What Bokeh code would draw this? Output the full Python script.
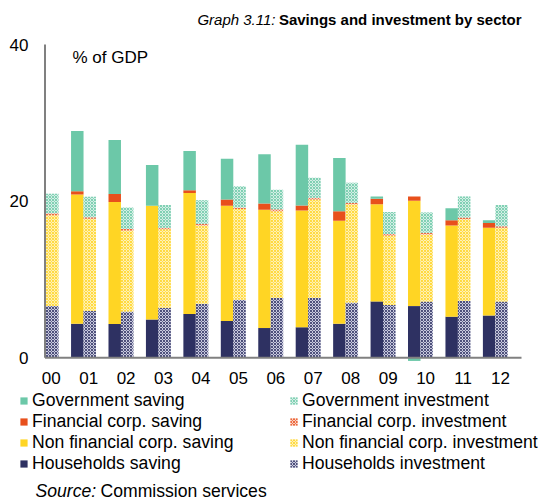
import numpy as np
from bokeh.plotting import figure
from bokeh.models import ColumnDataSource, Label, Legend, LegendItem, Range1d
from bokeh.embed import file_html
from bokeh.resources import INLINE

# ---------------- data (% of GDP) ----------------
years = ["00", "01", "02", "03", "04", "05", "06", "07", "08", "09", "10", "11", "12"]

hh_saving  = [np.nan, 4.35, 4.3, 4.9, 5.6, 4.7, 3.8, 3.9, 4.35, 7.2, 6.6, 5.25, 5.4]
nfc_saving = [np.nan, 16.5, 15.6, 14.5, 15.45, 14.7, 15.1, 14.9, 13.15, 12.4, 13.45, 11.65, 11.2]
fin_saving = [np.nan, 0.4, 1.0, 0.0, 0.35, 0.8, 0.8, 0.65, 1.2, 0.7, 0.55, 0.65, 0.6]
gov_saving = [np.nan, 7.7, 6.9, 5.2, 5.0, 5.2, 6.3, 7.75, 6.8, 0.3, -0.4, 1.55, 0.35]

hh_invest  = [6.6, 6.0, 5.9, 6.4, 6.9, 7.4, 7.65, 7.65, 7.05, 6.75, 7.2, 7.25, 7.2]
nfc_invest = [11.6, 11.75, 10.35, 10.0, 10.0, 11.6, 11.05, 12.55, 12.55, 8.85, 8.55, 10.45, 9.4]
fin_invest = [0.25, 0.2, 0.2, 0.2, 0.2, 0.2, 0.25, 0.25, 0.2, 0.2, 0.2, 0.2, 0.2]
gov_invest = [2.5, 2.6, 2.75, 2.9, 3.0, 2.7, 2.5, 2.55, 2.55, 2.8, 2.6, 2.7, 2.7]

y_ticks = [0, 20, 40]
y_tick_labels = ["0", "20", "40"]

# ---------------- styling / layout ----------------
W, H = 543, 500
FONT = "Liberation Sans"
GREY = "#808080"
C_GOV, C_FIN, C_NFC, C_HH = "#6CC8A8", "#E8501C", "#FFD524", "#2E3162"
P_GOV, P_FIN, P_NFC, P_HH = "#D3EFE5", "#F9CDBE", "#FFF1B5", "#C9CADF"

PX_X = 37.44          # pixels per category
PX_Y = 313.3 / 40     # pixels per % point
X0_PX, Y0_PX = 50.7, 357.3   # pixel position of first category label / zero line
X_AXIS_L = (44.5 - X0_PX) / PX_X
X_AXIS_R = (521.0 - X0_PX) / PX_X

n = len(years)
idx = np.arange(n)
SAV_OFF, INV_OFF, BAR_W = -0.303, 0.029, 1 / 3


def stacked(series):
    """positive values stack upward, negative values downward from 0"""
    pos = np.zeros(n)
    neg = np.zeros(n)
    out = []
    for s in series:
        v = np.asarray(s, dtype=float)
        miss = np.isnan(v)
        v0 = np.nan_to_num(v)
        bottom = np.where(v0 >= 0, pos, neg)
        top = bottom + v0
        pos = np.where(v0 >= 0, top, pos)
        neg = np.where(v0 < 0, top, neg)
        out.append((np.where(miss, np.nan, bottom), np.where(miss, np.nan, top)))
    return out


p = figure(width=W, height=H, min_border=0,
           x_range=Range1d(-X0_PX / PX_X, (W - X0_PX) / PX_X),
           y_range=Range1d(-(H - Y0_PX) / PX_Y, Y0_PX / PX_Y),
           x_axis_location=None, y_axis_location=None,
           output_backend="svg", toolbar_location=None,
           background_fill_color="white", border_fill_color="white")
p.outline_line_color = None
p.grid.visible = False

sav = stacked([hh_saving, nfc_saving, fin_saving, gov_saving])
inv = stacked([hh_invest, nfc_invest, fin_invest, gov_invest])

r = {}
for key, (b, t), col in zip(["hh_s", "nfc_s", "fin_s", "gov_s"], sav, [C_HH, C_NFC, C_FIN, C_GOV]):
    src = ColumnDataSource(dict(x=idx + SAV_OFF, bottom=b, top=t))
    r[key] = p.vbar(x="x", bottom="bottom", top="top", width=BAR_W, source=src,
                    fill_color=col, line_color=None)

for key, (b, t), col, pale in zip(["hh_i", "nfc_i", "fin_i", "gov_i"], inv,
                                  [C_HH, C_NFC, C_FIN, C_GOV], [P_HH, P_NFC, P_FIN, P_GOV]):
    src = ColumnDataSource(dict(x=idx + INV_OFF, bottom=b, top=t))
    r[key] = p.vbar(x="x", bottom="bottom", top="top", width=BAR_W, source=src,
                    fill_color=pale, line_color=None,
                    hatch_pattern="diagonal_cross", hatch_color=col,
                    hatch_scale=3, hatch_weight=1.0, hatch_alpha=0.8)

# axis lines
p.segment(x0=[X_AXIS_L, X_AXIS_L], y0=[y_ticks[0], y_ticks[0]],
          x1=[X_AXIS_L, X_AXIS_R], y1=[y_ticks[-1], y_ticks[0]],
          line_color=GREY, line_width=2)

# tick labels
p.text(x=[X_AXIS_L] * len(y_ticks), y=y_ticks, text=y_tick_labels,
       x_offset=-16.5, text_align="right", text_baseline="middle",
       text_font={"value": FONT}, text_font_size="17px", text_color="black")
p.text(x=idx, y=[0] * n, text=years, y_offset=20,
       text_align="center", text_baseline="middle",
       text_font={"value": FONT}, text_font_size="17px", text_color="black")


def sy(img_y):
    return H - img_y


# title
p.add_layout(Label(x=521, y=sy(19), x_units="screen", y_units="screen",
                   text="Savings and investment by sector", text_align="right",
                   text_baseline="middle", text_font=FONT, text_font_style="bold",
                   text_font_size="15px", text_color="black"))
p.add_layout(Label(x=275, y=sy(19), x_units="screen", y_units="screen",
                   text="Graph 3.11:", text_align="right",
                   text_baseline="middle", text_font=FONT, text_font_style="italic",
                   text_font_size="15px", text_color="black"))
p.add_layout(Label(x=72, y=sy(57), x_units="screen", y_units="screen",
                   text="% of GDP", text_baseline="middle", text_font=FONT,
                   text_font_size="17px", text_color="black"))
# source
p.add_layout(Label(x=35, y=sy(490), x_units="screen", y_units="screen",
                   text="Source:", text_baseline="middle", text_font=FONT,
                   text_font_style="italic", text_font_size="17.6px", text_color="black"))
p.add_layout(Label(x=100, y=sy(490), x_units="screen", y_units="screen",
                   text="Commission services", text_baseline="middle", text_font=FONT,
                   text_font_size="17.6px", text_color="black"))


def make_legend(items, loc):
    lg = Legend(items=items, location=loc, orientation="vertical",
                label_text_font=FONT, label_text_font_size="17.6px",
                label_text_color="black", glyph_width=9, glyph_height=9,
                label_standoff=4, label_height=21, spacing=0, padding=0, margin=0,
                border_line_color=None, background_fill_alpha=0)
    p.add_layout(lg, "center")


make_legend([LegendItem(label="Government saving", renderers=[r["gov_s"]]),
             LegendItem(label="Financial corp. saving", renderers=[r["fin_s"]]),
             LegendItem(label="Non financial corp. saving", renderers=[r["nfc_s"]]),
             LegendItem(label="Households saving", renderers=[r["hh_s"]])],
            (19, 26))
make_legend([LegendItem(label="Government investment", renderers=[r["gov_i"]]),
             LegendItem(label="Financial corp. investment", renderers=[r["fin_i"]]),
             LegendItem(label="Non financial corp. investment", renderers=[r["nfc_i"]]),
             LegendItem(label="Households investment", renderers=[r["hh_i"]])],
            (289, 26))

open("out.html", "w").write(file_html(p, INLINE))
